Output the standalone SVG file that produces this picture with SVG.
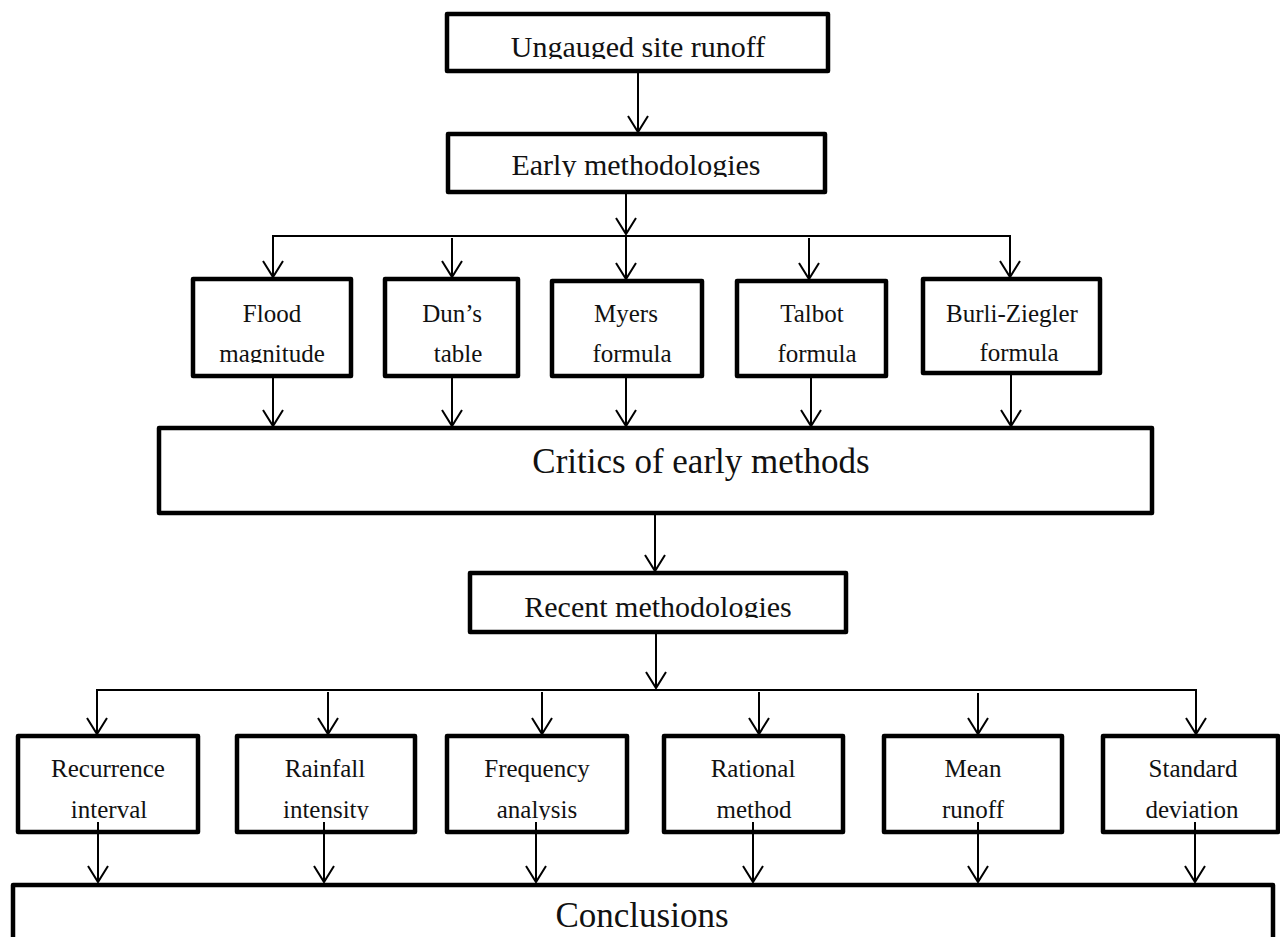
<svg xmlns="http://www.w3.org/2000/svg" width="1280" height="937" viewBox="0 0 1280 937">
<style>
.box{fill:#fff;stroke:#000;stroke-width:4.5;stroke-linejoin:round}
.c{fill:none;stroke:#000;stroke-width:2}
.t{font-family:"Liberation Serif","Times New Roman",serif;fill:#111;text-anchor:middle}
.s{font-size:25px}
.m{font-size:30px}
.l{font-size:35px}
</style>
<defs>
<marker id="ah" markerWidth="24" markerHeight="20" refX="11" refY="17" orient="0" markerUnits="userSpaceOnUse">
<path d="M1,1 L11,17 L21,1" fill="none" stroke="#000" stroke-width="2"/>
</marker>
<clipPath id="cTop"><rect x="0" y="0" width="1280" height="59"/></clipPath>
<clipPath id="cEarly"><rect x="0" y="120" width="1280" height="57"/></clipPath>
<clipPath id="cRow1"><rect x="0" y="250" width="1280" height="113"/></clipPath>
<clipPath id="cRecent"><rect x="0" y="560" width="1280" height="58"/></clipPath>
<clipPath id="cRow2"><rect x="0" y="700" width="1280" height="120"/></clipPath>
</defs>
<rect width="1280" height="937" fill="#fff"/>

<g id="connectors">
<line class="c" x1="638" y1="72" x2="638" y2="132" marker-end="url(#ah)"/>
<line class="c" x1="626" y1="192" x2="626" y2="234" marker-end="url(#ah)"/>
<polyline class="c" points="273,278 273,236 1010,236 1010,277"/>
<line class="c" x1="273" y1="250" x2="273" y2="277" marker-end="url(#ah)"/>
<line class="c" x1="1010" y1="250" x2="1010" y2="277" marker-end="url(#ah)"/>
<line class="c" x1="452" y1="238" x2="452" y2="277" marker-end="url(#ah)"/>
<line class="c" x1="626" y1="236" x2="626" y2="279" marker-end="url(#ah)"/>
<line class="c" x1="809" y1="238" x2="809" y2="279" marker-end="url(#ah)"/>
<line class="c" x1="273" y1="376" x2="273" y2="426" marker-end="url(#ah)"/>
<line class="c" x1="452" y1="376" x2="452" y2="426" marker-end="url(#ah)"/>
<line class="c" x1="626" y1="376" x2="626" y2="426" marker-end="url(#ah)"/>
<line class="c" x1="811" y1="376" x2="811" y2="426" marker-end="url(#ah)"/>
<line class="c" x1="1011" y1="373" x2="1011" y2="426" marker-end="url(#ah)"/>
<line class="c" x1="655" y1="513" x2="655" y2="571" marker-end="url(#ah)"/>
<line class="c" x1="656" y1="632" x2="656" y2="688" marker-end="url(#ah)"/>
<polyline class="c" points="97,700 97,690 1196,690 1196,700"/>
<line class="c" x1="97" y1="690" x2="97" y2="734" marker-end="url(#ah)"/>
<line class="c" x1="328" y1="692" x2="328" y2="734" marker-end="url(#ah)"/>
<line class="c" x1="542" y1="692" x2="542" y2="734" marker-end="url(#ah)"/>
<line class="c" x1="759" y1="692" x2="759" y2="734" marker-end="url(#ah)"/>
<line class="c" x1="978" y1="693" x2="978" y2="734" marker-end="url(#ah)"/>
<line class="c" x1="1196" y1="690" x2="1196" y2="734" marker-end="url(#ah)"/>
</g>

<g id="n-ungauged">
<rect class="box" x="447" y="14" width="381" height="57"/>
<text class="t m" x="638" y="57" clip-path="url(#cTop)">Ungauged site runoff</text>
</g>
<g id="n-early">
<rect class="box" x="448" y="134" width="377" height="58"/>
<text class="t m" x="636" y="175" clip-path="url(#cEarly)">Early methodologies</text>
</g>

<g id="n-flood">
<rect class="box" x="193" y="279" width="158" height="97"/>
<g clip-path="url(#cRow1)"><text class="t s" x="272" y="322">Flood</text><text class="t s" x="272" y="362">magnitude</text></g>
</g>
<g id="n-dun">
<rect class="box" x="385" y="279" width="133" height="97"/>
<g clip-path="url(#cRow1)"><text class="t s" x="452" y="322">Dun’s</text><text class="t s" x="458" y="362">table</text></g>
</g>
<g id="n-myers">
<rect class="box" x="552" y="281" width="150" height="95"/>
<g clip-path="url(#cRow1)"><text class="t s" x="626" y="322">Myers</text><text class="t s" x="632" y="362">formula</text></g>
</g>
<g id="n-talbot">
<rect class="box" x="737" y="281" width="149" height="95"/>
<g clip-path="url(#cRow1)"><text class="t s" x="812" y="322">Talbot</text><text class="t s" x="817" y="362">formula</text></g>
</g>
<g id="n-burli">
<rect class="box" x="923" y="279" width="177" height="94"/>
<g clip-path="url(#cRow1)"><text class="t s" x="1012" y="322">Burli-Ziegler</text><text class="t s" x="1019" y="361">formula</text></g>
</g>

<g id="n-critics">
<rect class="box" x="159" y="428" width="993" height="85"/>
<text class="t l" x="701" y="473">Critics of early methods</text>
</g>

<g id="n-recent">
<rect class="box" x="470" y="573" width="376" height="59"/>
<text class="t m" x="658" y="617" clip-path="url(#cRecent)">Recent methodologies</text>
</g>

<g id="n-recurrence">
<rect class="box" x="18" y="736" width="180" height="96"/>
<g clip-path="url(#cRow2)"><text class="t s" x="108" y="777">Recurrence</text><text class="t s" x="109" y="818">interval</text></g>
</g>
<g id="n-rainfall">
<rect class="box" x="237" y="736" width="178" height="96"/>
<g clip-path="url(#cRow2)"><text class="t s" x="325" y="777">Rainfall</text><text class="t s" x="326" y="818">intensity</text></g>
</g>
<g id="n-frequency">
<rect class="box" x="447" y="736" width="180" height="96"/>
<g clip-path="url(#cRow2)"><text class="t s" x="537" y="777">Frequency</text><text class="t s" x="537" y="818">analysis</text></g>
</g>
<g id="n-rational">
<rect class="box" x="664" y="736" width="179" height="96"/>
<g clip-path="url(#cRow2)"><text class="t s" x="753" y="777">Rational</text><text class="t s" x="754" y="818">method</text></g>
</g>
<g id="n-mean">
<rect class="box" x="884" y="736" width="178" height="96"/>
<g clip-path="url(#cRow2)"><text class="t s" x="973" y="777">Mean</text><text class="t s" x="973" y="818">runoff</text></g>
</g>
<g id="n-standard">
<rect class="box" x="1103" y="736" width="175" height="96"/>
<g clip-path="url(#cRow2)"><text class="t s" x="1193" y="777">Standard</text><text class="t s" x="1192" y="818">deviation</text></g>
</g>

<g id="connectors-out">
<line class="c" x1="98" y1="822" x2="98" y2="882" marker-end="url(#ah)"/>
<line class="c" x1="324" y1="822" x2="324" y2="882" marker-end="url(#ah)"/>
<line class="c" x1="536" y1="822" x2="536" y2="882" marker-end="url(#ah)"/>
<line class="c" x1="753" y1="822" x2="753" y2="882" marker-end="url(#ah)"/>
<line class="c" x1="978" y1="822" x2="978" y2="882" marker-end="url(#ah)"/>
<line class="c" x1="1195" y1="822" x2="1195" y2="882" marker-end="url(#ah)"/>
</g>

<g id="n-conclusions">
<rect class="box" x="13" y="885" width="1260" height="80"/>
<text class="t l" x="642" y="927">Conclusions</text>
</g>
</svg>
